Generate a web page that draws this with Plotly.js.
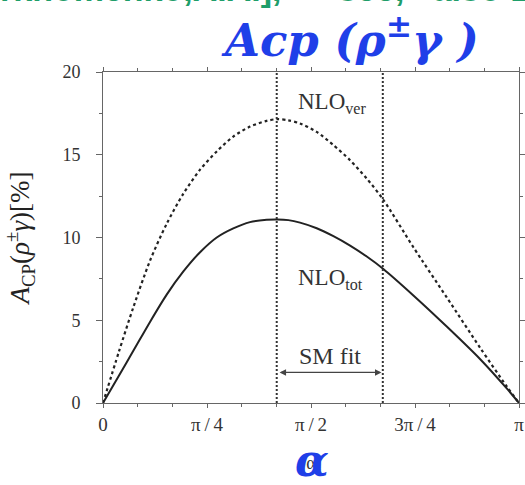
<!DOCTYPE html>
<html>
<head>
<meta charset="utf-8">
<script src="https://cdn.plot.ly/plotly-3.0.1.min.js"></script>
<style>html,body{margin:0;padding:0;background:#fff;}</style>
</head>
<body>
<div id="chart" style="width:525px;height:485px;"></div>
<script>
// alpha grid (radians)
const alpha = [0, 0.12, 0.229, 0.355, 0.481, 0.607, 0.733, 0.859, 0.984, 1.11, 1.236, 1.317, 1.40, 1.488, 1.614, 1.74, 1.866, 1.992, 2.117, 2.344, 2.596, 2.847, 3.049, Math.PI];
// NLO_ver (dashed) A_CP [%]
const nloVer = [0, 3.1, 5.78, 8.6, 10.83, 12.65, 14.1, 15.2, 16.1, 16.7, 17.05, 17.15, 17.08, 16.89, 16.38, 15.58, 14.67, 13.56, 12.28, 9.41, 6.38, 3.35, 1.0, 0];
// NLO_tot (solid) A_CP [%]
const nloTot = [0, 1.65, 3.15, 4.9, 6.55, 7.95, 9.11, 10.0, 10.55, 10.93, 11.07, 11.09, 11.05, 10.9, 10.56, 10.08, 9.51, 8.85, 8.1, 6.5, 4.62, 2.66, 0.88, 0];
// SM fit range for alpha
const smFit = [1.312, 2.113];
const yRange = [0, 20];
const xTickVals = [0, Math.PI/4, Math.PI/2, 3*Math.PI/4, Math.PI];
const xTickText = ['0', 'π\u2009/\u20094', 'π\u2009/\u20092', '3π\u2009/\u20094', 'π'];
const yTickVals = [0, 5, 10, 15, 20];

const serif = 'Liberation Serif, Times New Roman, serif';
const ink = '#222';

const traces = [
  {x: alpha, y: nloVer, mode: 'lines', line: {color: ink, width: 2.2, dash: '3px,3px', shape: 'spline', smoothing: 0.8}, hoverinfo: 'skip'},
  {x: alpha, y: nloTot, mode: 'lines', line: {color: ink, width: 2, shape: 'spline', smoothing: 0.8}, hoverinfo: 'skip'},
  {x: [smFit[0], smFit[0]], y: yRange, mode: 'lines', line: {color: '#333', width: 2, dash: '2px,2px'}, hoverinfo: 'skip'},
  {x: [smFit[1], smFit[1]], y: yRange, mode: 'lines', line: {color: '#333', width: 2, dash: '2px,2px'}, hoverinfo: 'skip'}
];

const px2x = p => (p - 103) / 416;
const px2y = p => (403 - p) / 331;

const layout = {
  width: 525, height: 485,
  margin: {l: 103, r: 6, t: 72, b: 82},
  paper_bgcolor: '#fff', plot_bgcolor: '#fff',
  showlegend: false,
  font: {family: serif, color: ink, size: 18},
  xaxis: {
    range: [0, Math.PI], tickvals: xTickVals, ticktext: xTickText,
    showgrid: false, zeroline: false, showline: true, linecolor: '#666', linewidth: 1,
    mirror: 'allticks', ticks: 'outside', ticklen: 4, tickcolor: '#666',
    minor: {tick0: 0, dtick: Math.PI/12, ticks: 'outside', ticklen: 3, tickcolor: '#666'},
    tickfont: {family: serif, size: 19, color: '#333'},
    ticklabelstandoff: 0,
    title: {text: 'α', font: {family: serif, size: 18, color: '#333'}, standoff: 22}
  },
  yaxis: {
    range: yRange, tickvals: yTickVals,
    showgrid: false, zeroline: false, showline: true, linecolor: '#666', linewidth: 1,
    mirror: 'allticks', ticks: 'outside', ticklen: 6, tickcolor: '#666',
    minor: {dtick: 2.5, ticks: 'outside', ticklen: 3, tickcolor: '#666'},
    tickfont: {family: serif, size: 18, color: '#333'},
    ticklabelstandoff: 12,
    title: {text: '<i>A</i><sub>CP</sub>(<i>ρ</i><sup>±</sup><i>γ</i>)[%]', font: {family: serif, size: 27, color: '#222'}, standoff: 24}
  },
  annotations: [
    {x: 1.73, y: 18.1, xref: 'x', yref: 'y', text: 'NLO<sub>ver</sub>', showarrow: false, font: {family: serif, size: 23, color: '#333'}},
    {x: 1.72, y: 7.5, xref: 'x', yref: 'y', text: 'NLO<sub>tot</sub>', showarrow: false, font: {family: serif, size: 23, color: '#333'}},
    {x: (smFit[0] + smFit[1]) / 2, y: 2.85, xref: 'x', yref: 'y', text: 'SM fit', showarrow: false, font: {family: serif, size: 24, color: '#333'}},
    {x: smFit[1] - 0.01, y: 1.85, ax: smFit[0] + 0.01, ay: 1.85, xref: 'x', yref: 'y', axref: 'x', ayref: 'y',
     text: '', showarrow: true, arrowhead: 2, startarrowhead: 2, arrowside: 'end+start', arrowsize: 1, arrowwidth: 1.3, arrowcolor: '#444', standoff: 0, startstandoff: 0},
    {x: px2x(350), y: px2y(37), xref: 'paper', yref: 'paper', xanchor: 'center', yanchor: 'middle',
     text: '<i><b>Acp (ρ<sup>±</sup>γ )</b></i>', showarrow: false,
     font: {family: 'DejaVu Serif, serif', size: 45, color: '#1f3fe8'}},
    {x: px2x(312), y: px2y(460), xref: 'paper', yref: 'paper', xanchor: 'center', yanchor: 'middle',
     text: '<i><b>α</b></i>', showarrow: false,
     font: {family: 'DejaVu Serif, serif', size: 44, color: '#1f3fe8'}},
    {x: px2x(-2), y: px2y(10), xref: 'paper', yref: 'paper', xanchor: 'left', yanchor: 'bottom',
     text: '<b>rkhomenko,A.A.],&nbsp;&nbsp;&nbsp;&nbsp;&nbsp; see,&nbsp;&nbsp; also Bosch</b>', showarrow: false,
     font: {family: 'Liberation Sans, Arial, sans-serif', size: 34, color: '#1f9e6a'}}
  ]
};

Plotly.newPlot('chart', traces, layout, {displayModeBar: false, staticPlot: true});
</script>
</body>
</html>
